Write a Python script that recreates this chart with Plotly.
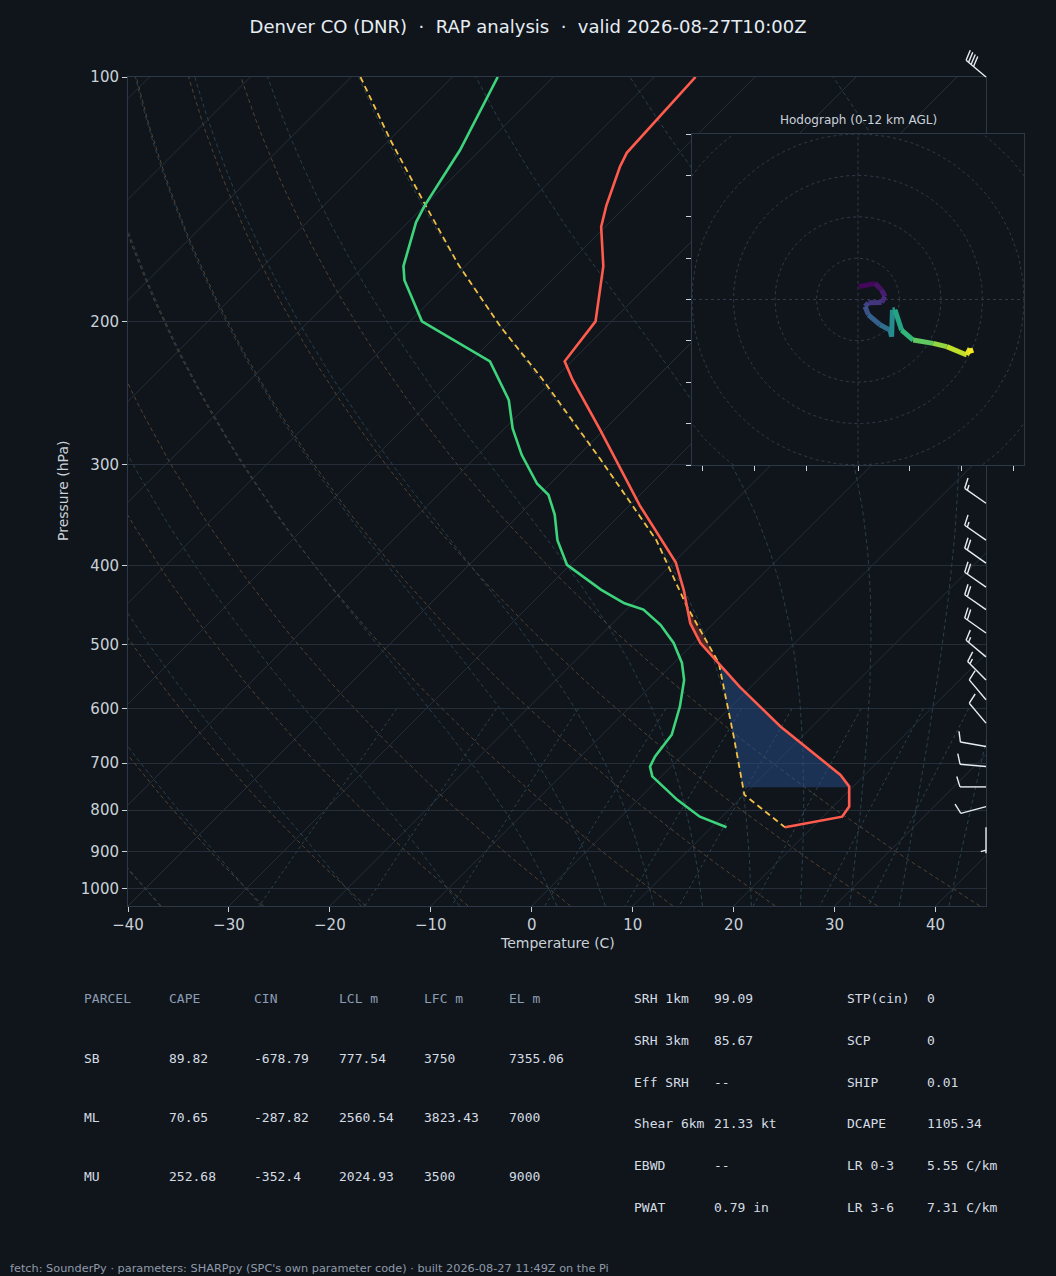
import numpy as np
import plotly.graph_objects as go
from plotly.colors import sample_colorscale

# ---------------- sounding data ----------------
# environment temperature
T_P = [100, 124, 129, 144, 153, 171, 200, 224, 236, 253, 272, 337, 396, 428,
       471, 498, 522, 564, 631, 724, 748, 792, 815, 840]
T_C = [-65.9, -65.2, -64.5, -62.0, -60.4, -56.3, -51.6, -50.7, -48.1, -44.3,
       -40.4, -29.0, -19.8, -16.3, -12.3, -9.35, -6.2, -1.1, 6.85, 17.6, 19.6,
       21.6, 21.9, 17.3]

# dewpoint
TD_P = [100, 123, 144, 151, 171, 178, 200, 224, 250, 271, 292, 317, 327, 346,
        372, 399, 428, 445, 453, 473, 498, 527, 553, 596, 646, 687, 707, 727,
        777, 815, 840]
TD_C = [-85.5, -82.0, -80.0, -79.2, -76.1, -74.6, -68.8, -58.1, -52.4, -49.2,
        -45.7, -41.3, -39.1, -36.5, -33.7, -30.3, -24.5, -20.8, -18.3, -15.1,
        -12.0, -9.2, -7.3, -5.1, -3.1, -2.6, -2.1, -0.9, 3.9, 7.8, 11.5]

# surface-based parcel path
PCL_P = [100, 120, 144, 170, 203, 235, 296, 372, 449, 527, 649, 766, 840]
PCL_C = [-99.1, -89.7, -79.9, -70.9, -60.5, -51.3, -37.4, -23.9, -14.3, -5.55,
         3.2, 10.05, 17.3]

# shaded layers (hPa): positive area and CIN
CAPE_LAYER = (449, 527)
CIN_LAYER = (527, 750)

# wind barbs visible on the right edge
BARB_P = [100, 335, 372, 397, 425, 453, 484, 518, 553, 585, 625, 668, 707, 749, 792, 840]
BARB_DIR = [310, 305, 305, 305, 305, 305, 305, 310, 315, 320, 320, 280, 275, 270, 255, 180]
BARB_KT = [40, 15, 15, 20, 20, 20, 20, 15, 15, 10, 10, 10, 10, 10, 10, 5]

# hodograph (kt) and height (km AGL)
HODO_U = [0.2, 4.1, 5.7, 6.5, 5.7, 2.5, 1.7, 2.5, 5.3, 7.7, 8.1, 8.3, 8.9,
          10.5, 13.3, 18.1, 21.4, 26.2, 27.0, 27.4]
HODO_V = [3.1, 3.9, 2.3, 0.7, -0.7, -0.8, -1.7, -3.7, -6.1, -7.4, -9.0, -2.5,
          -2.5, -7.4, -9.8, -10.6, -11.4, -13.4, -11.8, -13.0]
HODO_H = [0.0, 0.4, 0.8, 1.2, 1.6, 2.1, 2.7, 3.3, 4.0, 4.6, 5.4, 6.2, 6.6,
          7.4, 8.4, 9.6, 10.4, 11.3, 11.7, 12.0]

X_TICKS = [-40, -30, -20, -10, 0, 10, 20, 30, 40]
P_TICKS = [100, 200, 300, 400, 500, 600, 700, 800, 900, 1000]

PARCEL_HEAD = ["PARCEL", "CAPE", "CIN", "LCL m", "LFC m", "EL m"]
PARCEL_ROWS = [
    ["SB", "89.82", "-678.79", "777.54", "3750", "7355.06"],
    ["ML", "70.65", "-287.82", "2560.54", "3823.43", "7000"],
    ["MU", "252.68", "-352.4", "2024.93", "3500", "9000"],
]
INDEX_LEFT = [("SRH 1km", "99.09"), ("SRH 3km", "85.67"), ("Eff SRH", "--"),
              ("Shear 6km", "21.33 kt"), ("EBWD", "--"), ("PWAT", "0.79 in")]
INDEX_RIGHT = [("STP(cin)", "0"), ("SCP", "0"), ("SHIP", "0.01"),
               ("DCAPE", "1105.34"), ("LR 0-3", "5.55 C/km"), ("LR 3-6", "7.31 C/km")]

TITLE = "Denver CO (DNR)\u00a0\u00a0·\u00a0\u00a0RAP analysis\u00a0\u00a0·\u00a0\u00a0valid 2026-08-27T10:00Z"
FOOTER = "fetch: SounderPy · parameters: SHARPpy (SPC's own parameter code) · built 2026-08-27 11:49Z on the Pi"

# ---------------- geometry / style ----------------
FIG_W, FIG_H = 1056, 1276
L_PX, R_PX, T_PX, B_PX = 128, 1024, 77, 906
SKEW_R_PX = 986
HODO_L, HODO_T, HODO_B = 692, 134, 465
P_BOT, P_TOP = 1050.0, 100.0
T_MIN, T_MAX = -40.0, 45.0

BG = "#10151c"
SPINE = "#2d3846"
GRID = "#252e39"
TXT = "#c9d1d9"
WHITE = "#e6edf3"

px_per_deg = (SKEW_R_PX - L_PX) / (T_MAX - T_MIN)
px_per_dec = (B_PX - T_PX) / np.log10(P_BOT / P_TOP)
K = px_per_dec / px_per_deg   # 45 degree skew


def skew(t, p):
    return np.asarray(t, float) + K * np.log10(P_BOT / np.asarray(p, float))


def px_x(px):
    return (px - L_PX) / (R_PX - L_PX)


def px_y(py):
    return (B_PX - py) / (B_PX - T_PX)


fig = go.Figure()


def add_family(lines, color, dash, width=1.0):
    xs, ys = [], []
    for t, p in lines:
        xs += list(skew(t, p)) + [None]
        ys += list(p) + [None]
    fig.add_trace(go.Scatter(x=xs, y=ys, mode="lines", hoverinfo="skip",
                             line=dict(color=color, width=width, dash=dash)))


# isotherms
add_family([([t, t], [P_BOT, P_TOP]) for t in range(-130, 50, 10)], GRID, "solid")

# dry adiabats
pp = np.geomspace(P_BOT, P_TOP, 60)
add_family([((th + 273.15) * (pp / 1000.0) ** 0.2857 - 273.15, pp)
            for th in np.arange(T_MIN, T_MAX + 1, 10)], "#524230", "4px,3px")

# moist adiabats
RD, CPD, LV, EPS = 287.04, 1005.7, 2.501e6, 0.622


def dtdp(p, tk):
    e = 6.112 * np.exp(17.67 * (tk - 273.15) / (tk - 29.65))
    rs = EPS * e / (p - e)
    return (RD * tk + LV * rs) / (CPD + LV * LV * rs * EPS / (RD * tk * tk)) / p


def moist(t0, p_end, n):
    ps = np.linspace(1000.0, p_end, n + 1)
    tk = t0 + 273.15
    out = [tk]
    for i in range(n):
        p, h = ps[i], ps[i + 1] - ps[i]
        k1 = dtdp(p, tk)
        k2 = dtdp(p + h / 2, tk + h / 2 * k1)
        k3 = dtdp(p + h / 2, tk + h / 2 * k2)
        k4 = dtdp(p + h, tk + h * k3)
        tk = tk + h / 6 * (k1 + 2 * k2 + 2 * k3 + k4)
        out.append(tk)
    return ps, np.array(out) - 273.15


moist_lines = []
for t0 in np.concatenate((np.arange(T_MIN, 0, 10), np.arange(0, T_MAX + 1, 5))):
    p_lo, t_lo = moist(t0, P_BOT, 5)
    p_hi, t_hi = moist(t0, P_TOP, 90)
    moist_lines.append((np.concatenate((t_lo[::-1], t_hi[1:])),
                        np.concatenate((p_lo[::-1], p_hi[1:]))))
add_family(moist_lines, "#27404b", "4px,3px")

# mixing ratio lines
pm = np.linspace(600, P_BOT, 30)
mix_lines = []
for w in [0.0004, 0.001, 0.002, 0.004, 0.007, 0.01, 0.016, 0.024, 0.032]:
    lg = np.log(pm * w / (EPS + w) / 6.112)
    mix_lines.append((243.5 * lg / (17.67 - lg), pm))
add_family(mix_lines, "#29444a", "3px,3px")


# shaded areas between parcel and environment
def layer_poly(layer, color):
    lp = np.linspace(np.log10(layer[0]), np.log10(layer[1]), 40)
    xe = np.interp(lp, np.log10(T_P), skew(T_C, T_P))
    xp = np.interp(lp, np.log10(PCL_P), skew(PCL_C, PCL_P))
    fig.add_trace(go.Scatter(x=np.concatenate((xe, xp[::-1])),
                             y=10 ** np.concatenate((lp, lp[::-1])),
                             mode="lines", fill="toself", fillcolor=color,
                             line=dict(width=0), hoverinfo="skip"))


layer_poly(CAPE_LAYER, "rgba(190,60,45,0.35)")
layer_poly(CIN_LAYER, "rgba(40,80,140,0.5)")

# profiles
fig.add_trace(go.Scatter(x=skew(PCL_C, PCL_P), y=PCL_P, mode="lines",
                         line=dict(color="#f2c143", width=1.8, dash="6px,4px")))
fig.add_trace(go.Scatter(x=skew(TD_C, TD_P), y=TD_P, mode="lines",
                         line=dict(color="#3dd47c", width=2.6)))
fig.add_trace(go.Scatter(x=skew(T_C, T_P), y=T_P, mode="lines",
                         line=dict(color="#ff5c4d", width=2.6)))

# ---------------- hodograph ----------------
th = np.linspace(0, 2 * np.pi, 181)
rx, ry = [], []
for r in range(10, 60, 10):
    rx += list(r * np.cos(th)) + [None]
    ry += list(r * np.sin(th)) + [None]
rx += [-60, 60, None, 0, 0]
ry += [0, 0, None, -60, 60]
fig.add_trace(go.Scatter(x=rx, y=ry, xaxis="x2", yaxis="y2", mode="lines",
                         hoverinfo="skip",
                         line=dict(color="#2f3a48", width=1, dash="3px,3px")))

for i in range(len(HODO_U) - 1):
    c = sample_colorscale("Viridis", [(HODO_H[i] + HODO_H[i + 1]) / 24.0])[0]
    fig.add_trace(go.Scatter(x=HODO_U[i:i + 2], y=HODO_V[i:i + 2],
                             xaxis="x2", yaxis="y2", mode="lines",
                             line=dict(color=c, width=5)))

# ---------------- wind barbs (drawn as line shapes) ----------------
PW, PH = R_PX - L_PX, B_PX - T_PX
BL = 26.0


def barb_strokes(kt, deg):
    s = np.array([np.sin(np.radians(deg)), np.cos(np.radians(deg))])
    n = np.array([s[1], -s[0]])
    strokes = [(np.zeros(2), BL * s)]
    n10 = int(kt // 10)
    n5 = int(round((kt - 10 * n10) / 5.0))
    pos = BL
    if n10 == 0 and n5:
        pos -= 0.125 * BL
    for _ in range(n10):
        a = pos * s
        strokes.append((a, a + 0.4 * BL * n + 0.125 * BL * s))
        pos -= 0.125 * BL
    for _ in range(n5):
        a = pos * s
        strokes.append((a, a + 0.2 * BL * n + 0.0625 * BL * s))
    return strokes


shapes = []
bx = px_x(SKEW_R_PX)
for p, d, kt in zip(BARB_P, BARB_DIR, BARB_KT):
    by = np.log10(P_BOT / p) / np.log10(P_BOT / P_TOP)
    for a, b in barb_strokes(kt, d):
        shapes.append(dict(type="line", xref="paper", yref="paper",
                           x0=bx + a[0] / PW, y0=by + a[1] / PH,
                           x1=bx + b[0] / PW, y1=by + b[1] / PH,
                           line=dict(color=WHITE, width=1.4), layer="above"))

# ---------------- text ----------------
ann = []


def text(px, py, s, size, color, family="DejaVu Sans", xanchor="left", angle=0):
    if xanchor == "left":
        px -= 2   # annotation box padding
    ann.append(dict(x=px_x(px), y=px_y(py), xref="paper", yref="paper",
                    text=s, showarrow=False, xanchor=xanchor, yanchor="middle",
                    textangle=angle, font=dict(size=size, color=color, family=family)))


text(557, 943, "Temperature (C)", 14, TXT, xanchor="center")
text(63, 491, "Pressure (hPa)", 14, TXT, xanchor="center", angle=-90)
text(858, 120, "Hodograph (0-12 km AGL)", 12, TXT, xanchor="center")

MONO = "DejaVu Sans Mono"
col_x = [84, 169, 254, 339, 424, 509]
for j, h in enumerate(PARCEL_HEAD):
    text(col_x[j], 999, h, 13, "#8c9db3", MONO)
for i, row in enumerate(PARCEL_ROWS):
    for j, v in enumerate(row):
        text(col_x[j], 1058 + 59 * i, v, 13, "#d5dce3", MONO)
for i, ((l1, v1), (l2, v2)) in enumerate(zip(INDEX_LEFT, INDEX_RIGHT)):
    y = 999 + 41.6 * i
    text(634, y, l1, 13, "#d5dce3", MONO)
    text(714, y, v1, 13, "#d5dce3", MONO)
    text(847, y, l2, 13, "#d5dce3", MONO)
    text(927, y, v2, 13, "#d5dce3", MONO)

text(10, 1268, FOOTER, 11.3, "#8f9aa8")

# ---------------- layout ----------------
axis_common = dict(showline=True, mirror=True, linecolor=SPINE, linewidth=1,
                   zeroline=False, ticks="outside", ticklen=5, tickwidth=1,
                   tickcolor=TXT, tickfont=dict(size=15, color=TXT))

fig.update_layout(
    width=FIG_W, height=FIG_H,
    margin=dict(l=L_PX, r=FIG_W - R_PX, t=T_PX, b=FIG_H - B_PX, pad=0),
    paper_bgcolor=BG, plot_bgcolor=BG,
    showlegend=False,
    font=dict(family="DejaVu Sans", color=TXT),
    title=dict(text=TITLE, x=0.5, xanchor="center", xref="container",
               y=1 - 27 / FIG_H, yanchor="middle", yref="container",
               font=dict(size=18, color=WHITE)),
    xaxis=dict(axis_common, domain=[0, px_x(SKEW_R_PX)], range=[T_MIN, T_MAX],
               tickvals=X_TICKS,
               ticktext=[str(t).replace("-", "\u2212") for t in X_TICKS],
               showgrid=False, anchor="y"),
    yaxis=dict(axis_common, type="log",
               range=[np.log10(P_BOT), np.log10(P_TOP)],
               tickvals=P_TICKS, ticktext=[str(p) for p in P_TICKS],
               showgrid=True, gridcolor=GRID, gridwidth=1, anchor="x"),
    xaxis2=dict(axis_common, domain=[px_x(HODO_L), 1.0], range=[-40, 40],
                tickvals=[-37.5, -25, -12.5, 0, 12.5, 25, 37.5],
                showticklabels=False, showgrid=False, anchor="y2"),
    yaxis2=dict(axis_common, domain=[px_y(HODO_B), px_y(HODO_T)], range=[-40, 40],
                tickvals=list(range(-40, 41, 10)),
                showticklabels=False, showgrid=False, anchor="x2"),
    shapes=shapes,
    annotations=ann,
)

fig.write_html("out.html", config={"displayModeBar": False},
               post_script="document.body.style.margin='0';")
